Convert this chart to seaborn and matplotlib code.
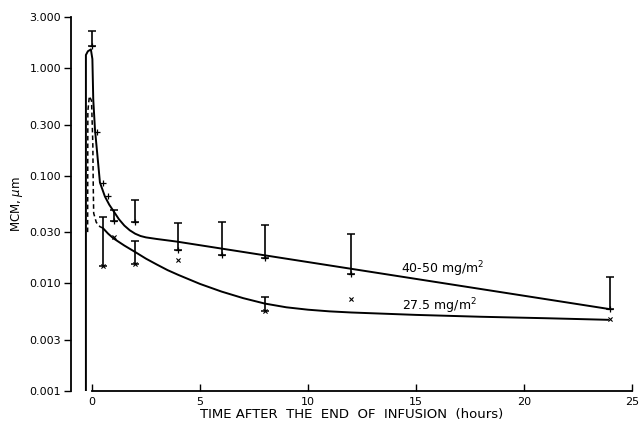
import numpy as np
import pandas as pd
import matplotlib
matplotlib.use("Agg")
import matplotlib.pyplot as plt
import matplotlib.ticker as mticker
import seaborn as sns

# ---- data ----
# measured points, 40-50 mg/m2 ("+")
t_hi = [0, 0.25, 0.5, 0.75, 1, 2, 4, 6, 8, 12, 24]
c_hi = [1.61, 0.254, 0.0863, 0.0647, 0.0379, 0.037, 0.0206, 0.0182, 0.0173, 0.0123, 0.00576]
c_hi_top = [2.22, None, None, None, 0.0479, 0.0594, 0.0366, 0.0371, 0.0352, 0.0288, 0.0115]

# measured points, 27.5 mg/m2 ("x")
t_lo = [0.5, 1, 2, 4, 8, 12, 24]
c_lo = [0.0144, 0.0270, 0.0153, 0.0164, 0.00560, 0.00724, 0.00466]
c_lo_top = [0.0412, None, 0.0250, None, 0.00746, None, None]

# fitted curve, 40-50 mg/m2 (solid)
curve_hi_t = [-0.28, -0.28, -0.19, -0.05, 0.02, 0.06, 0.14, 0.37, 0.60, 0.80, 1.0,
              1.25, 1.5, 1.75, 2.0, 2.25, 2.5, 3.0, 3.92, 23.9]
curve_hi_c = [0.001, 1.33, 1.44, 1.50, 1.22, 0.515, 0.270, 0.0867, 0.0643, 0.0540, 0.0470,
              0.0395, 0.0345, 0.0312, 0.0290, 0.0276, 0.0268, 0.0259, 0.0245, 0.0058]

# fitted curve, 27.5 mg/m2: dashed early part, solid later part
curve_lo_dash_t = [-0.20, -0.19, -0.12, -0.02, 0.04, 0.06, 0.08, 0.20, 0.37, 0.50]
curve_lo_dash_c = [0.03, 0.40, 0.55, 0.50, 0.20, 0.08, 0.045, 0.037, 0.0337, 0.0328]
curve_lo_t = [0.50, 0.75, 1.0, 1.5, 2.0, 2.5, 3.0, 3.5, 4.0, 5.0, 6.0, 7.0, 8.0,
              9.0, 10.0, 11.0, 12.0, 15.0, 18.0, 21.0, 23.9]
curve_lo_c = [0.0328, 0.0290, 0.0262, 0.0225, 0.0196, 0.0170, 0.0150, 0.0133, 0.0120,
              0.0099, 0.0084, 0.0073, 0.0065, 0.0060, 0.0057, 0.0055, 0.00537,
              0.0051, 0.0049, 0.00475, 0.00459]

y_ticks = [3.0, 1.0, 0.3, 0.1, 0.03, 0.01, 0.003, 0.001]
y_tick_labels = ["3.000", "1.000", "0.300", "0.100", "0.030", "0.010", "0.003", "0.001"]
x_ticks = [0, 5, 10, 15, 20, 25]

label_hi = "40-50 mg/m$^2$"
label_lo = "27.5 mg/m$^2$"

# ---- plotting ----
sns.set_theme(style="ticks")
plt.rcParams["font.family"] = ["DejaVu Sans"]

fig = plt.figure(figsize=(6.39, 4.21), dpi=100)
ax = fig.add_axes([71/639, 30/421, 561/639, 374/421])

df_hi = pd.DataFrame({"t": curve_hi_t, "c": curve_hi_c})
df_lod = pd.DataFrame({"t": curve_lo_dash_t, "c": curve_lo_dash_c})
df_lo = pd.DataFrame({"t": curve_lo_t, "c": curve_lo_c})

sns.lineplot(data=df_hi, x="t", y="c", sort=False, estimator=None, color="black",
             lw=1.4, ax=ax)
sns.lineplot(data=df_lod, x="t", y="c", sort=False, estimator=None, color="black",
             lw=1.1, ax=ax, dashes=False, linestyle=(0, (3, 2)))
sns.lineplot(data=df_lo, x="t", y="c", sort=False, estimator=None, color="black",
             lw=1.4, ax=ax)

# error bars (upper only)
for ts, cs, tops in [(t_hi, c_hi, c_hi_top), (t_lo, c_lo, c_lo_top)]:
    for t, c, top in zip(ts, cs, tops):
        if top is not None:
            ax.errorbar([t], [c], yerr=[[0], [top - c]], fmt="none", ecolor="black",
                        elinewidth=1.2, capsize=3, capthick=1.1)

pts_hi = pd.DataFrame({"t": t_hi, "c": c_hi})
pts_lo = pd.DataFrame({"t": t_lo, "c": c_lo})
sns.scatterplot(data=pts_hi, x="t", y="c", marker="+", s=16, color="black",
                linewidth=0.9, ax=ax, zorder=5)
sns.scatterplot(data=pts_lo, x="t", y="c", marker="x", s=9, color="black",
                linewidth=0.8, ax=ax, zorder=5)

ax.set_yscale("log")
ax.set_ylim(0.001, 3.0)
ax.set_xlim(-0.97, 25)
ax.yaxis.set_major_locator(mticker.FixedLocator(y_ticks))
ax.yaxis.set_major_formatter(mticker.FixedFormatter(y_tick_labels))
ax.yaxis.set_minor_locator(mticker.NullLocator())
ax.set_xticks(x_ticks)
ax.set_xticklabels([str(v) for v in x_ticks])

for s in ["top", "right"]:
    ax.spines[s].set_visible(False)
ax.spines["bottom"].set_bounds(0, 25)
ax.spines["left"].set_linewidth(1.3)
ax.spines["bottom"].set_linewidth(1.3)
ax.spines["left"].set_color("black")
ax.spines["bottom"].set_color("black")

ax.tick_params(axis="y", direction="out", length=5, width=1.0, pad=2,
               labelsize=8, colors="black")
ax.tick_params(axis="x", direction="in", length=5, width=1.0, pad=4,
               labelsize=8, colors="black")

ax.set_xlabel("TIME AFTER  THE  END  OF  INFUSION  (hours)", fontsize=9.5,
              labelpad=1, color="black")
ax.set_ylabel("MCM, $\\mu$m", fontsize=8.5, labelpad=3, color="black")

ax.text(14.3, 0.0137, label_hi, fontsize=9, color="black", va="center", ha="left")
ax.text(14.35, 0.0061, label_lo, fontsize=9, color="black", va="center", ha="left")

fig.savefig("out.png", dpi=100, facecolor="white")
